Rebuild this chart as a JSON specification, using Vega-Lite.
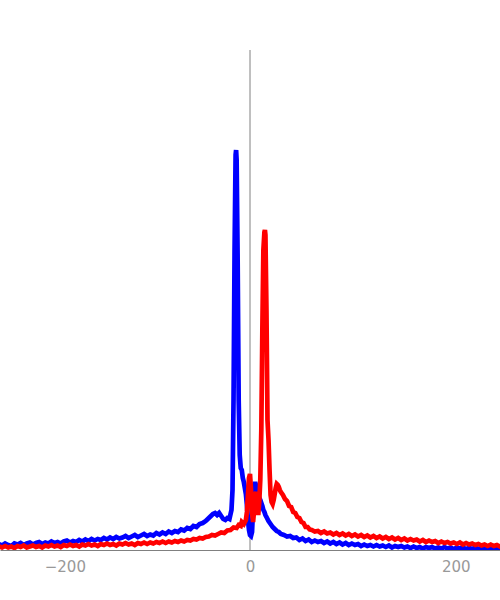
{
  "$schema": "https://vega.github.io/schema/vega-lite/v6.json",
  "width": 500,
  "height": 500,
  "autosize": "none",
  "padding": {"left": 0, "right": 0, "top": 50, "bottom": 50},
  "background": "white",
  "config": {"view": {"stroke": null}},
  "datasets": {
    "axis0": [{"x": 0}],
    "blue": [
      [-250,5],[-247,3.5],[-244,6],[-241,4.5],[-238,6.5],[-235,5],[-232,4],[-229,6.5],[-226,5.5],[-223,7],[-220,5],[-217,6.5],[-214,7.5],[-211,5.5],[-208,7],[-205,8],[-202,6],[-199,7.5],[-196,6.5],[-193,8.5],[-190,7],[-187,8],[-184,6.5],[-181,8.5],[-178,9.5],[-175,7.5],[-172,9],[-169,8],[-166,10],[-163,8.5],[-160,10.5],[-157,9],[-154,11],[-151,9.5],[-148,11],[-145,10],[-142,12],[-139,10.5],[-136,12.5],[-133,11],[-130,13],[-127,11.5],[-124,12.5],[-121,14],[-118,12],[-115,13.5],[-112,15],[-109,13],[-106,14.5],[-103,16],[-100,14],[-97,15.5],[-94,14.5],[-91,17],[-88,15.5],[-85,17.5],[-82,16],[-79,18.5],[-76,17],[-73,19],[-70,18],[-67,20.5],[-64,19.5],[-61,22],[-58,21],[-55,24],[-52,23],[-49,26],[-46,27],[-43,29],[-40,32],[-38,34],[-36,36],[-34,37],[-32,35],[-30,37],[-28,34],[-26,31],[-24,30],[-22,32],[-20,31],[-18,40],[-17,60],[-16,150],[-15,300],[-14,395],[-13.5,400],[-13,390],[-12,290],[-11,150],[-10,95],[-9,82],[-8,80],[-7,72],[-6,68],[-5,62],[-4,56],[-3,45],[-2,30],[-1,20],[0,15],[1,14],[2,18],[3,42],[4,62],[5,68],[6,64],[7,62],[8,56],[9,52],[10,50],[11,47],[12,44],[13,40],[14,38],[15,35],[16,33],[18,29],[20,26],[22,23],[24,21],[26,19],[28,18],[30,16],[33,15],[36,13.5],[39,14],[42,12],[45,12.5],[48,10],[51,11.5],[54,9],[57,10.5],[60,8],[63,9.5],[66,8],[69,9],[72,7],[75,8.5],[78,6.5],[81,8],[84,6],[87,7.5],[90,5.5],[93,7],[96,5],[99,6.5],[102,5],[105,6],[108,4],[111,5.5],[114,4],[117,5],[120,3.5],[123,5],[126,3.5],[129,4.5],[132,3],[135,4.5],[138,2.5],[141,4],[144,3],[147,4],[150,2.5],[153,3.5],[156,2],[159,3.5],[162,2],[165,3],[168,1.5],[171,3],[174,2],[177,3],[180,1.5],[183,2.5],[186,1.5],[189,3],[192,1.5],[195,2.5],[198,1],[201,2.5],[204,1.5],[207,2.5],[210,1],[213,2],[216,1],[219,2.5],[222,1],[225,2],[228,1],[231,2],[234,0.5],[237,2],[240,1],[243,2],[246,1],[249,1.5],[250,1]
    ],
    "red": [
      [-250,3],[-247,1.5],[-244,3.5],[-241,2.5],[-238,4],[-235,2.5],[-232,3.5],[-229,2],[-226,4],[-223,3],[-220,4.5],[-217,2.5],[-214,3.5],[-211,4.5],[-208,3],[-205,4],[-202,2.5],[-199,4.5],[-196,3.5],[-193,5],[-190,3.5],[-187,4.5],[-184,3],[-181,5],[-178,4],[-175,5.5],[-172,4],[-169,5],[-166,3.5],[-163,5.5],[-160,4.5],[-157,6],[-154,4.5],[-151,5.5],[-148,4],[-145,6],[-142,5],[-139,6.5],[-136,5],[-133,6],[-130,4.5],[-127,6.5],[-124,5.5],[-121,7],[-118,5.5],[-115,6.5],[-112,5],[-109,7],[-106,6],[-103,7.5],[-100,6],[-97,7.5],[-94,6.5],[-91,8],[-88,7],[-85,8.5],[-82,7],[-79,8.5],[-76,7.5],[-73,9],[-70,8],[-67,9.5],[-64,8.5],[-61,10],[-58,9.5],[-55,11],[-52,10.5],[-49,12],[-46,11.5],[-43,13],[-40,13.5],[-37,15],[-34,14.5],[-31,16],[-28,17.5],[-25,17],[-22,19.5],[-19,20],[-16,22.5],[-13,22],[-11,25],[-9,24],[-8,28],[-6,26],[-4,30],[-3,38],[-2,55],[-1,72],[0,76],[1,60],[2,38],[3,28],[4,40],[5,55],[6,58],[7,45],[8,35],[9,48],[10,70],[11,120],[12,220],[13,300],[14,318],[14.5,320],[15,315],[16,240],[17,130],[18,110],[19,80],[20,55],[21,48],[22,46],[23,50],[24,56],[25,62],[26,66],[27,65],[28,63],[29,60],[30,58],[32,55],[34,51],[36,49],[38,44],[40,43],[42,38],[44,37],[46,33],[48,32],[50,28],[52,27],[54,23],[56,23],[58,20.5],[60,20],[63,18.5],[66,19],[69,17],[72,18.5],[75,16.5],[78,17.5],[81,15.5],[84,17],[87,15],[90,16.5],[93,14.5],[96,16],[99,14],[102,15.5],[105,13.5],[108,15],[111,13],[114,14.5],[117,12.5],[120,14],[123,12],[126,13.5],[129,11.5],[132,13],[135,11],[138,12.5],[141,10.5],[144,12],[147,10],[150,11.5],[153,9.5],[156,11],[159,9.5],[162,10.5],[165,8.5],[168,10],[171,8],[174,9.5],[177,8],[180,9],[183,7],[186,8.5],[189,7],[192,8],[195,6.5],[198,7.5],[201,6],[204,7.5],[207,5.5],[210,7],[213,5.5],[216,6.5],[219,5],[222,6],[225,4.5],[228,5.5],[231,4],[234,5.5],[237,4],[240,5],[243,3.5],[246,4.5],[249,3.5],[250,4]
    ]
  },
  "layer": [
    {
      "data": {"name": "axis0"},
      "mark": {"type": "rule", "color": "#808080", "strokeWidth": 1},
      "encoding": {
        "x": {"field": "x", "type": "quantitative", "scale": {"domain": [-243, 243], "nice": false, "zero": false},
          "axis": {"values": [-200, 0.000001, 200], "title": null, "grid": false, "ticks": false,
            "domainColor": "#808080", "domainWidth": 1,
            "labelOverlap": false, "labelFlush": false, "labelBound": false,
            "labelExpr": "abs(datum.value) < 1 ? '0' : datum.label",
            "labelColor": "#999999", "labelFont": "DejaVu Sans", "labelFontSize": 15, "labelPadding": 9,
            "labelAlign": {"condition": {"test": "datum.value < -1", "value": "left"}, "value": "center"}}}
      }
    },
    {
      "data": {"name": "blue"},
      "transform": [{"calculate": "datum[0]", "as": "x"}, {"calculate": "datum[1]", "as": "y"}],
      "mark": {"type": "line", "color": "#0000ff", "strokeWidth": 4.7, "clip": true, "strokeJoin": "miter"},
      "encoding": {
        "x": {"field": "x", "type": "quantitative"},
        "y": {"field": "y", "type": "quantitative", "scale": {"domain": [0, 500]}, "axis": null}
      }
    },
    {
      "data": {"name": "red"},
      "transform": [{"calculate": "datum[0]", "as": "x"}, {"calculate": "datum[1]", "as": "y"}],
      "mark": {"type": "line", "color": "#ff0000", "strokeWidth": 4.7, "clip": true, "strokeJoin": "miter"},
      "encoding": {
        "x": {"field": "x", "type": "quantitative"},
        "y": {"field": "y", "type": "quantitative"}
      }
    }
  ]
}
